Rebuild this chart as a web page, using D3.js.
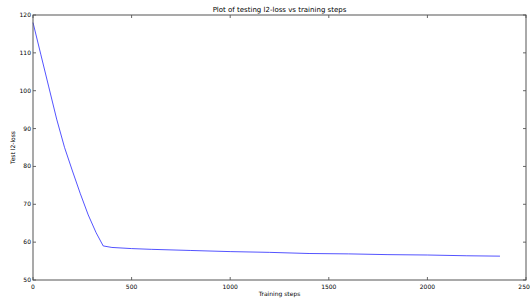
<!DOCTYPE html>
<html><head><meta charset="utf-8">
<script src="https://cdn.jsdelivr.net/npm/d3@7"></script>
<style>body{margin:0;background:#fff}svg{display:block}text{font-family:"DejaVu Sans",sans-serif;fill:#000}</style>
</head><body><svg id="c" width="530" height="299"></svg>
<script>
const steps = [0, 40, 80, 120, 160, 200, 240, 280, 320, 356, 400, 500, 600, 800, 1000, 1200, 1400, 1600, 1800, 2000, 2200, 2368];
const loss  = [118, 109.5, 101, 92.5, 85, 78.8, 72.8, 67.2, 62.5, 59.0, 58.6, 58.3, 58.1, 57.8, 57.5, 57.3, 57.0, 56.9, 56.7, 56.6, 56.4, 56.3];
const xTicks = [0, 500, 1000, 1500, 2000, 2500];
const yTicks = [50, 60, 70, 80, 90, 100, 110, 120];
const title = "Plot of testing l2-loss vs training steps";
const xLabel = "Training steps";
const yLabel = "Test l2-loss";

const svg = d3.select("#c");
const L = 33, R = 526, T = 15, B = 280;
const x = d3.scaleLinear().domain([0, 2500]).range([L, R]);
const y = d3.scaleLinear().domain([50, 120]).range([B, T]);
const tk = 3;

const g = svg.append("g");
// ticks inward on all four sides
xTicks.forEach(v => {
  g.append("line").attr("x1", x(v)).attr("x2", x(v)).attr("y1", B).attr("y2", B - tk).attr("stroke", "#000").attr("stroke-width", 0.6);
  g.append("line").attr("x1", x(v)).attr("x2", x(v)).attr("y1", T).attr("y2", T + tk).attr("stroke", "#000").attr("stroke-width", 0.6);
  g.append("text").attr("x", x(v)).attr("y", B + 9).attr("text-anchor", "middle").attr("font-size", 6).text(v);
});
yTicks.forEach(v => {
  g.append("line").attr("x1", L).attr("x2", L + tk).attr("y1", y(v)).attr("y2", y(v)).attr("stroke", "#000").attr("stroke-width", 0.6);
  g.append("line").attr("x1", R).attr("x2", R - tk).attr("y1", y(v)).attr("y2", y(v)).attr("stroke", "#000").attr("stroke-width", 0.6);
  g.append("text").attr("x", L - 2).attr("y", y(v) + 2).attr("text-anchor", "end").attr("font-size", 6).text(v);
});

const line = d3.line().x((d, i) => x(steps[i])).y(d => y(d));
svg.append("path").datum(loss).attr("d", line).attr("fill", "none").attr("stroke", "#0000ff").attr("stroke-width", 0.8).attr("stroke-opacity", 0.85);

svg.append("rect").attr("x", L).attr("y", T).attr("width", R - L).attr("height", B - T).attr("fill", "none").attr("stroke", "#555").attr("stroke-width", 1);

svg.append("text").attr("x", (L + R) / 2).attr("y", 12).attr("text-anchor", "middle").attr("font-size", 7).text(title);
svg.append("text").attr("x", (L + R) / 2).attr("y", 296).attr("text-anchor", "middle").attr("font-size", 6).text(xLabel);
svg.append("text").attr("transform", `translate(15,${(T + B) / 2}) rotate(-90)`).attr("text-anchor", "middle").attr("font-size", 6).text(yLabel);
</script></body></html>
